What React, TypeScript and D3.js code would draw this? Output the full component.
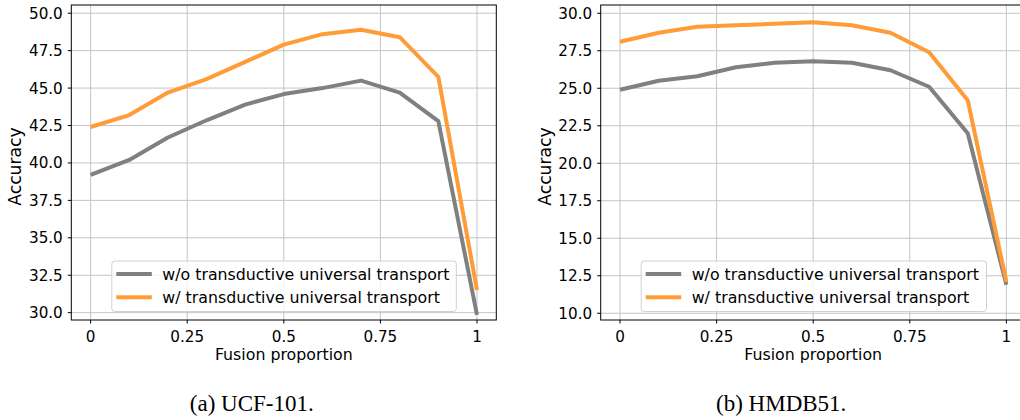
import React from 'react'
import * as d3 from 'd3'

// fusion proportion steps
const proportions = [0, 0.1, 0.2, 0.3, 0.4, 0.5, 0.6, 0.7, 0.8, 0.9, 1]

// UCF-101
const ucfWithout = [39.2, 40.2, 41.7, 42.85, 43.9, 44.6, 45.0, 45.5, 44.7, 42.8, 29.85]
const ucfWith = [42.4, 43.2, 44.7, 45.6, 46.75, 47.9, 48.6, 48.9, 48.4, 45.75, 31.5]

// HMDB51
const hmdbWithout = [24.9, 25.5, 25.8, 26.4, 26.7, 26.8, 26.7, 26.2, 25.1, 22.0, 11.9]
const hmdbWith = [28.1, 28.7, 29.1, 29.2, 29.3, 29.4, 29.2, 28.7, 27.4, 24.2, 12.1]

const xTicks = [0, 0.25, 0.5, 0.75, 1]
const xTickLabels = ['0', '0.25', '0.5', '0.75', '1']
const ucfYTicks = [30, 32.5, 35, 37.5, 40, 42.5, 45, 47.5, 50]
const hmdbYTicks = [10, 12.5, 15, 17.5, 20, 22.5, 25, 27.5, 30]

const seriesNames = ['w/o transductive universal transport', 'w/ transductive universal transport']
const colors = ['#808080', '#ff9c38']

const FONT = "'DejaVu Sans', sans-serif"

type PanelProps = {
  left: number
  yDomain: [number, number]
  yTicks: number[]
  series: number[][]
  caption: string
  legendWidth: number
}

function Panel({ left, yDomain, yTicks, series, caption, legendWidth }: PanelProps) {
  const top = 5
  const bottom = 320
  const right = left + 425

  const x = d3.scaleLinear().domain([-0.05, 1.05]).range([left, right])
  const y = d3.scaleLinear().domain(yDomain).range([bottom, top])

  const line = d3.line<number>()
    .x((_, i) => x(proportions[i]))
    .y(d => y(d))

  const legX = left + 40.5
  const legY = 261

  return (
    <g>
      {/* grid */}
      {xTicks.map(t => (
        <line key={'gx' + t} x1={x(t)} x2={x(t)} y1={top} y2={bottom} stroke="#c4c4c4" strokeWidth={1} />
      ))}
      {yTicks.map(t => (
        <line key={'gy' + t} x1={left} x2={right} y1={y(t)} y2={y(t)} stroke="#c4c4c4" strokeWidth={1} />
      ))}

      {/* lines */}
      {series.map((s, i) => (
        <path key={i} d={line(s) || ''} fill="none" stroke={colors[i]} strokeWidth={4} strokeLinejoin="round" />
      ))}

      {/* frame */}
      <rect x={left} y={top} width={right - left} height={bottom - top} fill="none" stroke="#000" strokeWidth={1} />

      {/* y ticks */}
      {yTicks.map(t => (
        <g key={'yt' + t}>
          <line x1={left - 3.5} x2={left} y1={y(t)} y2={y(t)} stroke="#000" />
          <text x={left - 8.5} y={y(t)} dy="0.36em" textAnchor="end" fontSize={15.2} fontFamily={FONT} fill="#000">
            {d3.format('.1f')(t)}
          </text>
        </g>
      ))}

      {/* x ticks */}
      {xTicks.map((t, i) => (
        <g key={'xt' + t}>
          <line x1={x(t)} x2={x(t)} y1={bottom} y2={bottom + 3.5} stroke="#000" />
          <text x={x(t)} y={341.5} textAnchor="middle" fontSize={15.2} fontFamily={FONT} fill="#000">
            {xTickLabels[i]}
          </text>
        </g>
      ))}

      <text x={(left + right) / 2} y={359.5} textAnchor="middle" fontSize={15.8} fontFamily={FONT} fill="#000">
        Fusion proportion
      </text>
      <text transform={`translate(${left - 50},${(top + bottom) / 2 + 4}) rotate(-90)`} textAnchor="middle" fontSize={17.2} fontFamily={FONT} fill="#000">
        Accuracy
      </text>

      {/* legend */}
      <rect x={legX} y={legY} width={legendWidth} height={50.5} rx={3} fill="#fff" fillOpacity={0.8} stroke="#d0d0d0" strokeWidth={1} />
      {seriesNames.map((name, i) => (
        <g key={name}>
          <line x1={legX + 4.5} x2={legX + 40} y1={legY + 13 + i * 23.3} y2={legY + 13 + i * 23.3} stroke={colors[i]} strokeWidth={4} />
          <text x={legX + 50.5} y={legY + 13 + i * 23.3} dy="0.36em" fontSize={15.8} fontFamily={FONT} fill="#000">
            {name}
          </text>
        </g>
      ))}

      <text x={(left + right) / 2 - 32} y={411} textAnchor="middle" fontSize={23} fontFamily="'Liberation Serif', 'Times New Roman', serif" fill="#000">
        {caption}
      </text>
    </g>
  )
}

export default function App() {
  return (
    <svg width={1020} height={420} style={{ position: 'absolute', left: 0, top: 0, background: '#fff' }}>
      <Panel left={71.3} yDomain={[29.51, 50.55]} yTicks={ucfYTicks} series={[ucfWithout, ucfWith]} caption="(a) UCF-101." legendWidth={344.5} />
      <Panel left={600.7} yDomain={[9.55, 30.55]} yTicks={hmdbYTicks} series={[hmdbWithout, hmdbWith]} caption="(b) HMDB51." legendWidth={345.3} />
    </svg>
  )
}
